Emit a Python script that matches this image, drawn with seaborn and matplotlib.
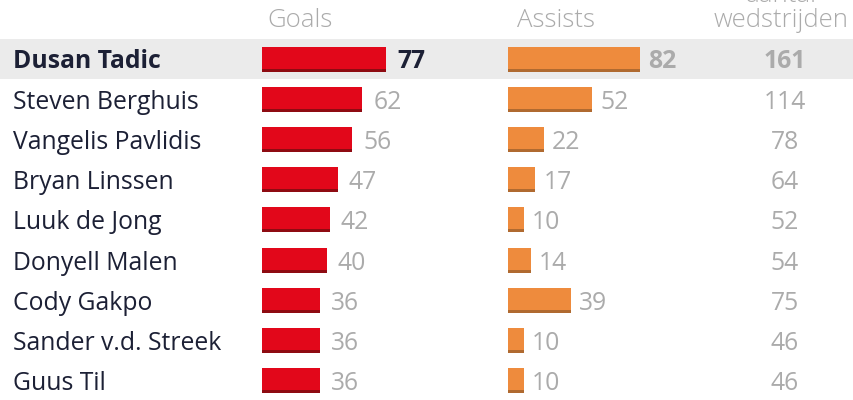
import matplotlib
matplotlib.use("Agg")
import matplotlib.pyplot as plt
import seaborn as sns
import pandas as pd
import numpy as np

players = ["Dusan Tadic", "Steven Berghuis", "Vangelis Pavlidis", "Bryan Linssen",
           "Luuk de Jong", "Donyell Malen", "Cody Gakpo", "Sander v.d. Streek", "Guus Til"]
goals = [77, 62, 56, 47, 42, 40, 36, 36, 36]
assists = [82, 52, 22, 17, 10, 14, 39, 10, 10]
matches = [161, 114, 78, 64, 52, 54, 75, 46, 46]
header_goals = "Goals"
header_assists = "Assists"
header_matches = "aantal\nwedstrijden"

sns.set_theme(style="white")
plt.rcParams["font.family"] = ["Open Sans", "DejaVu Sans"]

W, H = 854, 400
fig = plt.figure(figsize=(W / 100, H / 100), dpi=100)
fig.patch.set_facecolor("white")
ROW0, ROWH = 59.0, 40.2
ylim = ((H - ROW0) / ROWH, -ROW0 / ROWH)


def py(p):
    return (p - ROW0) / ROWH


NAVY = "#1c2035"
GRAY = "#ababab"
FS = 17.8

bg = fig.add_axes([0, 0, 1, 1])
bg.set_xlim(0, W)
bg.set_ylim(*ylim)
bg.axis("off")
bg.axhspan(-0.5, 0.49, color="#ebebeb", zorder=0, lw=0)

df = pd.DataFrame({"player": players, "goals": goals, "assists": assists, "matches": matches})
n = len(df)
PX = 1.615
BAR_H = 25 / ROWH
STRIP = 3 / ROWH


def bar_axes(x0, col, color, dark, gap, first_color):
    ax = fig.add_axes([x0 / W, 0, 220 / W, 1])
    sns.barplot(data=df, x=col, y="player", orient="h", color=color,
                width=BAR_H, saturation=1, linewidth=0, ax=ax)
    ax.barh(np.arange(n) + BAR_H / 2 - STRIP / 2, df[col], height=STRIP,
            color=dark, lw=0)
    ax.set_xlim(0, 220 / PX)
    ax.set_ylim(*ylim)
    ax.patch.set_alpha(0)
    ax.axis("off")
    for i, v in enumerate(df[col]):
        ax.text(v + gap / PX, i, str(v), va="center_baseline", ha="left",
                fontsize=FS, color=first_color if i == 0 else GRAY,
                fontweight="bold" if i == 0 else "normal")
    return ax


bar_axes(262, "goals", "#e2071a", "#8e0b12", 11, NAVY)
bar_axes(508, "assists", "#ee8b3d", "#b06a30", 8, GRAY)

for i, row in df.iterrows():
    bold = i == 0
    bg.text(13, i, row["player"], va="center_baseline", ha="left", fontsize=FS,
            color=NAVY, fontweight="bold" if bold else "normal")
    bg.text(785, i, str(row["matches"]), va="center_baseline", ha="center",
            fontsize=FS, color=GRAY, fontweight="bold" if bold else "normal")

hkw = dict(ha="center", va="baseline", fontsize=18.5, color=GRAY, fontweight="light")
bg.text(300, py(27), header_goals, **hkw)
bg.text(556, py(27), header_assists, **hkw)
bg.text(781, py(27), header_matches, linespacing=1.0, multialignment="center", **hkw)

fig.savefig("out.png", dpi=100)
